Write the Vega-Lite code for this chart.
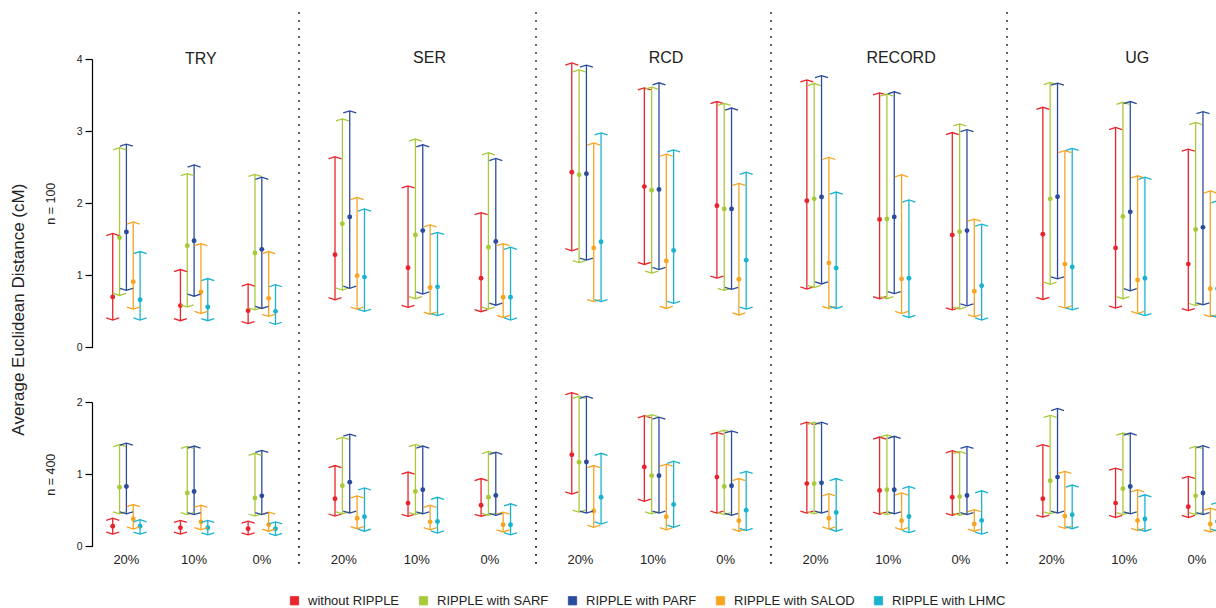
{
"$schema": "https://vega.github.io/schema/vega-lite/v6.json",
"padding": {"left": 10, "top": 11, "right": 0, "bottom": 0},
"datasets": {"d": [
{"dataset":"TRY","n":100,"missing":"20%","method":"without RIPPLE","mean":0.70,"low":0.38,"high":1.58},
{"dataset":"TRY","n":100,"missing":"20%","method":"RIPPLE with SARF","mean":1.52,"low":0.72,"high":2.77},
{"dataset":"TRY","n":100,"missing":"20%","method":"RIPPLE with PARF","mean":1.60,"low":0.79,"high":2.82},
{"dataset":"TRY","n":100,"missing":"20%","method":"RIPPLE with SALOD","mean":0.91,"low":0.53,"high":1.74},
{"dataset":"TRY","n":100,"missing":"20%","method":"RIPPLE with LHMC","mean":0.66,"low":0.38,"high":1.33},
{"dataset":"TRY","n":100,"missing":"10%","method":"without RIPPLE","mean":0.58,"low":0.37,"high":1.08},
{"dataset":"TRY","n":100,"missing":"10%","method":"RIPPLE with SARF","mean":1.41,"low":0.56,"high":2.41},
{"dataset":"TRY","n":100,"missing":"10%","method":"RIPPLE with PARF","mean":1.48,"low":0.71,"high":2.53},
{"dataset":"TRY","n":100,"missing":"10%","method":"RIPPLE with SALOD","mean":0.77,"low":0.47,"high":1.44},
{"dataset":"TRY","n":100,"missing":"10%","method":"RIPPLE with LHMC","mean":0.56,"low":0.37,"high":0.955},
{"dataset":"TRY","n":100,"missing":"0%","method":"without RIPPLE","mean":0.51,"low":0.33,"high":0.88},
{"dataset":"TRY","n":100,"missing":"0%","method":"RIPPLE with SARF","mean":1.31,"low":0.52,"high":2.40},
{"dataset":"TRY","n":100,"missing":"0%","method":"RIPPLE with PARF","mean":1.36,"low":0.54,"high":2.36},
{"dataset":"TRY","n":100,"missing":"0%","method":"RIPPLE with SALOD","mean":0.68,"low":0.43,"high":1.33},
{"dataset":"TRY","n":100,"missing":"0%","method":"RIPPLE with LHMC","mean":0.50,"low":0.32,"high":0.87},
{"dataset":"TRY","n":400,"missing":"20%","method":"without RIPPLE","mean":0.28,"low":0.17,"high":0.39},
{"dataset":"TRY","n":400,"missing":"20%","method":"RIPPLE with SARF","mean":0.82,"low":0.45,"high":1.41},
{"dataset":"TRY","n":400,"missing":"20%","method":"RIPPLE with PARF","mean":0.83,"low":0.45,"high":1.43},
{"dataset":"TRY","n":400,"missing":"20%","method":"RIPPLE with SALOD","mean":0.38,"low":0.24,"high":0.58},
{"dataset":"TRY","n":400,"missing":"20%","method":"RIPPLE with LHMC","mean":0.28,"low":0.17,"high":0.37},
{"dataset":"TRY","n":400,"missing":"10%","method":"without RIPPLE","mean":0.26,"low":0.17,"high":0.36},
{"dataset":"TRY","n":400,"missing":"10%","method":"RIPPLE with SARF","mean":0.74,"low":0.44,"high":1.385},
{"dataset":"TRY","n":400,"missing":"10%","method":"RIPPLE with PARF","mean":0.76,"low":0.44,"high":1.39},
{"dataset":"TRY","n":400,"missing":"10%","method":"RIPPLE with SALOD","mean":0.34,"low":0.23,"high":0.57},
{"dataset":"TRY","n":400,"missing":"10%","method":"RIPPLE with LHMC","mean":0.26,"low":0.16,"high":0.36},
{"dataset":"TRY","n":400,"missing":"0%","method":"without RIPPLE","mean":0.245,"low":0.16,"high":0.35},
{"dataset":"TRY","n":400,"missing":"0%","method":"RIPPLE with SARF","mean":0.67,"low":0.42,"high":1.29},
{"dataset":"TRY","n":400,"missing":"0%","method":"RIPPLE with PARF","mean":0.70,"low":0.44,"high":1.33},
{"dataset":"TRY","n":400,"missing":"0%","method":"RIPPLE with SALOD","mean":0.30,"low":0.21,"high":0.475},
{"dataset":"TRY","n":400,"missing":"0%","method":"RIPPLE with LHMC","mean":0.245,"low":0.15,"high":0.34},
{"dataset":"SER","n":100,"missing":"20%","method":"without RIPPLE","mean":1.285,"low":0.66,"high":2.645},
{"dataset":"SER","n":100,"missing":"20%","method":"RIPPLE with SARF","mean":1.715,"low":0.795,"high":3.17},
{"dataset":"SER","n":100,"missing":"20%","method":"RIPPLE with PARF","mean":1.81,"low":0.82,"high":3.28},
{"dataset":"SER","n":100,"missing":"20%","method":"RIPPLE with SALOD","mean":0.995,"low":0.53,"high":2.08},
{"dataset":"SER","n":100,"missing":"20%","method":"RIPPLE with LHMC","mean":0.975,"low":0.50,"high":1.92},
{"dataset":"SER","n":100,"missing":"10%","method":"without RIPPLE","mean":1.105,"low":0.555,"high":2.24},
{"dataset":"SER","n":100,"missing":"10%","method":"RIPPLE with SARF","mean":1.56,"low":0.675,"high":2.89},
{"dataset":"SER","n":100,"missing":"10%","method":"RIPPLE with PARF","mean":1.62,"low":0.74,"high":2.81},
{"dataset":"SER","n":100,"missing":"10%","method":"RIPPLE with SALOD","mean":0.83,"low":0.46,"high":1.70},
{"dataset":"SER","n":100,"missing":"10%","method":"RIPPLE with LHMC","mean":0.84,"low":0.44,"high":1.595},
{"dataset":"SER","n":100,"missing":"0%","method":"without RIPPLE","mean":0.96,"low":0.495,"high":1.87},
{"dataset":"SER","n":100,"missing":"0%","method":"RIPPLE with SARF","mean":1.39,"low":0.53,"high":2.70},
{"dataset":"SER","n":100,"missing":"0%","method":"RIPPLE with PARF","mean":1.47,"low":0.585,"high":2.62},
{"dataset":"SER","n":100,"missing":"0%","method":"RIPPLE with SALOD","mean":0.695,"low":0.415,"high":1.44},
{"dataset":"SER","n":100,"missing":"0%","method":"RIPPLE with LHMC","mean":0.695,"low":0.38,"high":1.39},
{"dataset":"SER","n":400,"missing":"20%","method":"without RIPPLE","mean":0.66,"low":0.42,"high":1.12},
{"dataset":"SER","n":400,"missing":"20%","method":"RIPPLE with SARF","mean":0.84,"low":0.45,"high":1.51},
{"dataset":"SER","n":400,"missing":"20%","method":"RIPPLE with PARF","mean":0.89,"low":0.46,"high":1.555},
{"dataset":"SER","n":400,"missing":"20%","method":"RIPPLE with SALOD","mean":0.39,"low":0.245,"high":0.70},
{"dataset":"SER","n":400,"missing":"20%","method":"RIPPLE with LHMC","mean":0.41,"low":0.21,"high":0.81},
{"dataset":"SER","n":400,"missing":"10%","method":"without RIPPLE","mean":0.60,"low":0.415,"high":1.03},
{"dataset":"SER","n":400,"missing":"10%","method":"RIPPLE with SARF","mean":0.76,"low":0.44,"high":1.41},
{"dataset":"SER","n":400,"missing":"10%","method":"RIPPLE with PARF","mean":0.785,"low":0.45,"high":1.39},
{"dataset":"SER","n":400,"missing":"10%","method":"RIPPLE with SALOD","mean":0.34,"low":0.23,"high":0.57},
{"dataset":"SER","n":400,"missing":"10%","method":"RIPPLE with LHMC","mean":0.345,"low":0.185,"high":0.68},
{"dataset":"SER","n":400,"missing":"0%","method":"without RIPPLE","mean":0.57,"low":0.415,"high":0.94},
{"dataset":"SER","n":400,"missing":"0%","method":"RIPPLE with SARF","mean":0.68,"low":0.43,"high":1.315},
{"dataset":"SER","n":400,"missing":"0%","method":"RIPPLE with PARF","mean":0.705,"low":0.43,"high":1.305},
{"dataset":"SER","n":400,"missing":"0%","method":"RIPPLE with SALOD","mean":0.30,"low":0.20,"high":0.475},
{"dataset":"SER","n":400,"missing":"0%","method":"RIPPLE with LHMC","mean":0.30,"low":0.16,"high":0.59},
{"dataset":"RCD","n":100,"missing":"20%","method":"without RIPPLE","mean":2.43,"low":1.34,"high":3.945},
{"dataset":"RCD","n":100,"missing":"20%","method":"RIPPLE with SARF","mean":2.395,"low":1.175,"high":3.85},
{"dataset":"RCD","n":100,"missing":"20%","method":"RIPPLE with PARF","mean":2.41,"low":1.21,"high":3.915},
{"dataset":"RCD","n":100,"missing":"20%","method":"RIPPLE with SALOD","mean":1.38,"low":0.635,"high":2.835},
{"dataset":"RCD","n":100,"missing":"20%","method":"RIPPLE with LHMC","mean":1.465,"low":0.635,"high":2.975},
{"dataset":"RCD","n":100,"missing":"10%","method":"without RIPPLE","mean":2.23,"low":1.15,"high":3.60},
{"dataset":"RCD","n":100,"missing":"10%","method":"RIPPLE with SARF","mean":2.18,"low":1.03,"high":3.61},
{"dataset":"RCD","n":100,"missing":"10%","method":"RIPPLE with PARF","mean":2.19,"low":1.08,"high":3.67},
{"dataset":"RCD","n":100,"missing":"10%","method":"RIPPLE with SALOD","mean":1.20,"low":0.54,"high":2.68},
{"dataset":"RCD","n":100,"missing":"10%","method":"RIPPLE with LHMC","mean":1.345,"low":0.61,"high":2.74},
{"dataset":"RCD","n":100,"missing":"0%","method":"without RIPPLE","mean":1.965,"low":0.96,"high":3.41},
{"dataset":"RCD","n":100,"missing":"0%","method":"RIPPLE with SARF","mean":1.92,"low":0.79,"high":3.385},
{"dataset":"RCD","n":100,"missing":"0%","method":"RIPPLE with PARF","mean":1.92,"low":0.805,"high":3.32},
{"dataset":"RCD","n":100,"missing":"0%","method":"RIPPLE with SALOD","mean":0.945,"low":0.45,"high":2.275},
{"dataset":"RCD","n":100,"missing":"0%","method":"RIPPLE with LHMC","mean":1.21,"low":0.53,"high":2.43},
{"dataset":"RCD","n":400,"missing":"20%","method":"without RIPPLE","mean":1.27,"low":0.725,"high":2.13},
{"dataset":"RCD","n":400,"missing":"20%","method":"RIPPLE with SARF","mean":1.165,"low":0.475,"high":2.08},
{"dataset":"RCD","n":400,"missing":"20%","method":"RIPPLE with PARF","mean":1.17,"low":0.46,"high":2.08},
{"dataset":"RCD","n":400,"missing":"20%","method":"RIPPLE with SALOD","mean":0.49,"low":0.265,"high":1.12},
{"dataset":"RCD","n":400,"missing":"20%","method":"RIPPLE with LHMC","mean":0.68,"low":0.31,"high":1.29},
{"dataset":"RCD","n":400,"missing":"10%","method":"without RIPPLE","mean":1.10,"low":0.625,"high":1.81},
{"dataset":"RCD","n":400,"missing":"10%","method":"RIPPLE with SARF","mean":0.98,"low":0.45,"high":1.825},
{"dataset":"RCD","n":400,"missing":"10%","method":"RIPPLE with PARF","mean":0.98,"low":0.46,"high":1.79},
{"dataset":"RCD","n":400,"missing":"10%","method":"RIPPLE with SALOD","mean":0.41,"low":0.23,"high":1.14},
{"dataset":"RCD","n":400,"missing":"10%","method":"RIPPLE with LHMC","mean":0.58,"low":0.265,"high":1.18},
{"dataset":"RCD","n":400,"missing":"0%","method":"without RIPPLE","mean":0.96,"low":0.46,"high":1.58},
{"dataset":"RCD","n":400,"missing":"0%","method":"RIPPLE with SARF","mean":0.83,"low":0.44,"high":1.61},
{"dataset":"RCD","n":400,"missing":"0%","method":"RIPPLE with PARF","mean":0.84,"low":0.43,"high":1.60},
{"dataset":"RCD","n":400,"missing":"0%","method":"RIPPLE with SALOD","mean":0.355,"low":0.21,"high":0.94},
{"dataset":"RCD","n":400,"missing":"0%","method":"RIPPLE with LHMC","mean":0.50,"low":0.22,"high":1.04},
{"dataset":"RECORD","n":100,"missing":"20%","method":"without RIPPLE","mean":2.035,"low":0.81,"high":3.71},
{"dataset":"RECORD","n":100,"missing":"20%","method":"RIPPLE with SARF","mean":2.06,"low":0.83,"high":3.66},
{"dataset":"RECORD","n":100,"missing":"20%","method":"RIPPLE with PARF","mean":2.085,"low":0.88,"high":3.77},
{"dataset":"RECORD","n":100,"missing":"20%","method":"RIPPLE with SALOD","mean":1.17,"low":0.54,"high":2.635},
{"dataset":"RECORD","n":100,"missing":"20%","method":"RIPPLE with LHMC","mean":1.10,"low":0.54,"high":2.155},
{"dataset":"RECORD","n":100,"missing":"10%","method":"without RIPPLE","mean":1.775,"low":0.675,"high":3.53},
{"dataset":"RECORD","n":100,"missing":"10%","method":"RIPPLE with SARF","mean":1.78,"low":0.675,"high":3.515},
{"dataset":"RECORD","n":100,"missing":"10%","method":"RIPPLE with PARF","mean":1.81,"low":0.745,"high":3.545},
{"dataset":"RECORD","n":100,"missing":"10%","method":"RIPPLE with SALOD","mean":0.95,"low":0.47,"high":2.395},
{"dataset":"RECORD","n":100,"missing":"10%","method":"RIPPLE with LHMC","mean":0.96,"low":0.415,"high":2.045},
{"dataset":"RECORD","n":100,"missing":"0%","method":"without RIPPLE","mean":1.56,"low":0.52,"high":2.98},
{"dataset":"RECORD","n":100,"missing":"0%","method":"RIPPLE with SARF","mean":1.605,"low":0.53,"high":3.10},
{"dataset":"RECORD","n":100,"missing":"0%","method":"RIPPLE with PARF","mean":1.62,"low":0.575,"high":3.02},
{"dataset":"RECORD","n":100,"missing":"0%","method":"RIPPLE with SALOD","mean":0.78,"low":0.425,"high":1.78},
{"dataset":"RECORD","n":100,"missing":"0%","method":"RIPPLE with LHMC","mean":0.855,"low":0.38,"high":1.71},
{"dataset":"RECORD","n":400,"missing":"20%","method":"without RIPPLE","mean":0.87,"low":0.46,"high":1.72},
{"dataset":"RECORD","n":400,"missing":"20%","method":"RIPPLE with SARF","mean":0.87,"low":0.45,"high":1.72},
{"dataset":"RECORD","n":400,"missing":"20%","method":"RIPPLE with PARF","mean":0.88,"low":0.46,"high":1.72},
{"dataset":"RECORD","n":400,"missing":"20%","method":"RIPPLE with SALOD","mean":0.39,"low":0.24,"high":0.73},
{"dataset":"RECORD","n":400,"missing":"20%","method":"RIPPLE with LHMC","mean":0.47,"low":0.21,"high":0.94},
{"dataset":"RECORD","n":400,"missing":"10%","method":"without RIPPLE","mean":0.775,"low":0.445,"high":1.515},
{"dataset":"RECORD","n":400,"missing":"10%","method":"RIPPLE with SARF","mean":0.785,"low":0.44,"high":1.545},
{"dataset":"RECORD","n":400,"missing":"10%","method":"RIPPLE with PARF","mean":0.785,"low":0.45,"high":1.525},
{"dataset":"RECORD","n":400,"missing":"10%","method":"RIPPLE with SALOD","mean":0.355,"low":0.23,"high":0.74},
{"dataset":"RECORD","n":400,"missing":"10%","method":"RIPPLE with LHMC","mean":0.415,"low":0.19,"high":0.83},
{"dataset":"RECORD","n":400,"missing":"0%","method":"without RIPPLE","mean":0.68,"low":0.43,"high":1.325},
{"dataset":"RECORD","n":400,"missing":"0%","method":"RIPPLE with SARF","mean":0.69,"low":0.43,"high":1.315},
{"dataset":"RECORD","n":400,"missing":"0%","method":"RIPPLE with PARF","mean":0.705,"low":0.44,"high":1.385},
{"dataset":"RECORD","n":400,"missing":"0%","method":"RIPPLE with SALOD","mean":0.31,"low":0.21,"high":0.51},
{"dataset":"RECORD","n":400,"missing":"0%","method":"RIPPLE with LHMC","mean":0.36,"low":0.17,"high":0.77},
{"dataset":"UG","n":100,"missing":"20%","method":"without RIPPLE","mean":1.57,"low":0.665,"high":3.33},
{"dataset":"UG","n":100,"missing":"20%","method":"RIPPLE with SARF","mean":2.06,"low":0.875,"high":3.675},
{"dataset":"UG","n":100,"missing":"20%","method":"RIPPLE with PARF","mean":2.09,"low":0.95,"high":3.665},
{"dataset":"UG","n":100,"missing":"20%","method":"RIPPLE with SALOD","mean":1.155,"low":0.545,"high":2.73},
{"dataset":"UG","n":100,"missing":"20%","method":"RIPPLE with LHMC","mean":1.115,"low":0.52,"high":2.76},
{"dataset":"UG","n":100,"missing":"10%","method":"without RIPPLE","mean":1.38,"low":0.545,"high":3.05},
{"dataset":"UG","n":100,"missing":"10%","method":"RIPPLE with SARF","mean":1.815,"low":0.675,"high":3.40},
{"dataset":"UG","n":100,"missing":"10%","method":"RIPPLE with PARF","mean":1.88,"low":0.785,"high":3.41},
{"dataset":"UG","n":100,"missing":"10%","method":"RIPPLE with SALOD","mean":0.935,"low":0.47,"high":2.38},
{"dataset":"UG","n":100,"missing":"10%","method":"RIPPLE with LHMC","mean":0.96,"low":0.44,"high":2.36},
{"dataset":"UG","n":100,"missing":"0%","method":"without RIPPLE","mean":1.155,"low":0.51,"high":2.75},
{"dataset":"UG","n":100,"missing":"0%","method":"RIPPLE with SARF","mean":1.635,"low":0.58,"high":3.12},
{"dataset":"UG","n":100,"missing":"0%","method":"RIPPLE with PARF","mean":1.665,"low":0.59,"high":3.27},
{"dataset":"UG","n":100,"missing":"0%","method":"RIPPLE with SALOD","mean":0.815,"low":0.425,"high":2.17},
{"dataset":"UG","n":100,"missing":"0%","method":"RIPPLE with LHMC","mean":0.815,"low":0.415,"high":2.035},
{"dataset":"UG","n":400,"missing":"20%","method":"without RIPPLE","mean":0.66,"low":0.405,"high":1.41},
{"dataset":"UG","n":400,"missing":"20%","method":"RIPPLE with SARF","mean":0.91,"low":0.45,"high":1.815},
{"dataset":"UG","n":400,"missing":"20%","method":"RIPPLE with PARF","mean":0.96,"low":0.46,"high":1.91},
{"dataset":"UG","n":400,"missing":"20%","method":"RIPPLE with SALOD","mean":0.42,"low":0.25,"high":1.04},
{"dataset":"UG","n":400,"missing":"20%","method":"RIPPLE with LHMC","mean":0.44,"low":0.245,"high":0.85},
{"dataset":"UG","n":400,"missing":"10%","method":"without RIPPLE","mean":0.60,"low":0.40,"high":1.085},
{"dataset":"UG","n":400,"missing":"10%","method":"RIPPLE with SARF","mean":0.80,"low":0.44,"high":1.57},
{"dataset":"UG","n":400,"missing":"10%","method":"RIPPLE with PARF","mean":0.83,"low":0.45,"high":1.57},
{"dataset":"UG","n":400,"missing":"10%","method":"RIPPLE with SALOD","mean":0.36,"low":0.22,"high":0.785},
{"dataset":"UG","n":400,"missing":"10%","method":"RIPPLE with LHMC","mean":0.38,"low":0.21,"high":0.715},
{"dataset":"UG","n":400,"missing":"0%","method":"without RIPPLE","mean":0.55,"low":0.40,"high":0.97},
{"dataset":"UG","n":400,"missing":"0%","method":"RIPPLE with SARF","mean":0.70,"low":0.44,"high":1.385},
{"dataset":"UG","n":400,"missing":"0%","method":"RIPPLE with PARF","mean":0.74,"low":0.44,"high":1.395},
{"dataset":"UG","n":400,"missing":"0%","method":"RIPPLE with SALOD","mean":0.31,"low":0.20,"high":0.53},
{"dataset":"UG","n":400,"missing":"0%","method":"RIPPLE with LHMC","mean":0.345,"low":0.21,"high":0.61}
]},
"data": {"name": "d"},
"title": {"text": "Average Euclidean Distance (cM)", "orient": "left", "anchor": "middle", "offset": 16, "fontSize": 17, "fontWeight": "normal", "color": "#222"},
"columns": 5,
"spacing": {"row": 54, "column": 0},
"bounds": "flush",
"align": "each",
"resolve": {"scale": {"x": "independent", "y": "independent", "xOffset": "independent"}},
"concat": [
{
 "width": 206.5, "height": 288.4,
 "title": {"text": "TRY", "frame": "group", "offset": -63, "baseline": "middle", "anchor": "middle", "dx": 5.5, "fontSize": 16, "fontWeight": "normal", "color": "#222"},
 "transform": [{"filter": "datum.dataset === 'TRY' && datum.n === 100"}],
 "layer": [
  {
   "encoding": {
    "x": {"field": "missing", "type": "nominal", "sort": ["20%","10%","0%"], "scale": {"paddingInner": 0.495, "paddingOuter": 0.2725, "align": 0.469}, "axis": null},
    "xOffset": {"field": "method", "type": "nominal", "sort": ["without RIPPLE","RIPPLE with SARF","RIPPLE with PARF","RIPPLE with SALOD","RIPPLE with LHMC"], "scale": {"paddingInner": 0, "paddingOuter": 0}},
    "color": {"field": "method", "type": "nominal", "sort": ["without RIPPLE","RIPPLE with SARF","RIPPLE with PARF","RIPPLE with SALOD","RIPPLE with LHMC"], "scale": {"domain": ["without RIPPLE","RIPPLE with SARF","RIPPLE with PARF","RIPPLE with SALOD","RIPPLE with LHMC"], "range": ["#e8242c","#a8ca3a","#2b4c9c","#f6a523","#19b3cf"]}, "legend": {"title": null}}
   },
   "layer": [
    {"mark": {"type": "point", "filled": true, "size": 24, "opacity": 1}, "encoding": {"y": {"field": "mean", "type": "quantitative", "scale": {"domain": [0,4], "nice": false}, "axis": {"title": "n = 100", "values": [0,1,2,3,4], "format": "d"}}}},
    {"mark": {"type": "rule", "strokeWidth": 1.3}, "encoding": {"y": {"field": "low", "type": "quantitative", "scale": {"domain": [0,4], "nice": false}, "axis": {"title": "n = 100", "values": [0,1,2,3,4], "format": "d"}}, "y2": {"field": "high"}}},
    {"mark": {"type": "point", "shape": "M-1,0.32L0,0L1,0.32", "filled": false, "size": 169, "strokeWidth": 1.3, "opacity": 1}, "encoding": {"y": {"field": "high", "type": "quantitative", "scale": {"domain": [0,4], "nice": false}, "axis": {"title": "n = 100", "values": [0,1,2,3,4], "format": "d"}}}},
    {"mark": {"type": "point", "shape": "M-1,-0.32L0,0L1,-0.32", "filled": false, "size": 169, "strokeWidth": 1.3, "opacity": 1}, "encoding": {"y": {"field": "low", "type": "quantitative", "scale": {"domain": [0,4], "nice": false}, "axis": {"title": "n = 100", "values": [0,1,2,3,4], "format": "d"}}}}
   ]
  },
  {"transform": [{"aggregate": [{"op": "count", "as": "k"}]}], "mark": {"type": "rule", "color": "#111", "strokeWidth": 1.7, "opacity": 0}, "encoding": {"x": {"value": 0}, "y": {"datum": 4.65, "type": "quantitative", "scale": {"domain": [0,4], "nice": false}, "axis": {"title": "n = 100", "values": [0,1,2,3,4], "format": "d"}}, "y2": {"datum": -0.75}}}
 ]
},
{
 "width": 236.5, "height": 288.4,
 "title": {"text": "SER", "frame": "group", "offset": -63, "baseline": "middle", "anchor": "middle", "dx": 12.3, "fontSize": 16, "fontWeight": "normal", "color": "#222"},
 "transform": [{"filter": "datum.dataset === 'SER' && datum.n === 100"}],
 "layer": [
  {
   "encoding": {
    "x": {"field": "missing", "type": "nominal", "sort": ["20%","10%","0%"], "scale": {"paddingInner": 0.4955, "paddingOuter": 0.367, "align": 0.603}, "axis": null},
    "xOffset": {"field": "method", "type": "nominal", "sort": ["without RIPPLE","RIPPLE with SARF","RIPPLE with PARF","RIPPLE with SALOD","RIPPLE with LHMC"], "scale": {"paddingInner": 0, "paddingOuter": 0}},
    "color": {"field": "method", "type": "nominal", "sort": ["without RIPPLE","RIPPLE with SARF","RIPPLE with PARF","RIPPLE with SALOD","RIPPLE with LHMC"], "scale": {"domain": ["without RIPPLE","RIPPLE with SARF","RIPPLE with PARF","RIPPLE with SALOD","RIPPLE with LHMC"], "range": ["#e8242c","#a8ca3a","#2b4c9c","#f6a523","#19b3cf"]}, "legend": {"title": null}}
   },
   "layer": [
    {"mark": {"type": "point", "filled": true, "size": 24, "opacity": 1}, "encoding": {"y": {"field": "mean", "type": "quantitative", "scale": {"domain": [0,4], "nice": false}, "axis": null}}},
    {"mark": {"type": "rule", "strokeWidth": 1.3}, "encoding": {"y": {"field": "low", "type": "quantitative", "scale": {"domain": [0,4], "nice": false}, "axis": null}, "y2": {"field": "high"}}},
    {"mark": {"type": "point", "shape": "M-1,0.32L0,0L1,0.32", "filled": false, "size": 169, "strokeWidth": 1.3, "opacity": 1}, "encoding": {"y": {"field": "high", "type": "quantitative", "scale": {"domain": [0,4], "nice": false}, "axis": null}}},
    {"mark": {"type": "point", "shape": "M-1,-0.32L0,0L1,-0.32", "filled": false, "size": 169, "strokeWidth": 1.3, "opacity": 1}, "encoding": {"y": {"field": "low", "type": "quantitative", "scale": {"domain": [0,4], "nice": false}, "axis": null}}}
   ]
  },
  {"transform": [{"aggregate": [{"op": "count", "as": "k"}]}], "mark": {"type": "rule", "color": "#111", "strokeWidth": 1.7, "strokeDash": [1.7, 6.3]}, "encoding": {"x": {"value": 0}, "y": {"datum": 4.65, "type": "quantitative", "scale": {"domain": [0,4], "nice": false}, "axis": null}, "y2": {"datum": -0.75}}}
 ]
},
{
 "width": 235, "height": 288.4,
 "title": {"text": "RCD", "frame": "group", "offset": -63, "baseline": "middle", "anchor": "middle", "dx": 12.5, "fontSize": 16, "fontWeight": "normal", "color": "#222"},
 "transform": [{"filter": "datum.dataset === 'RCD' && datum.n === 100"}],
 "layer": [
  {
   "encoding": {
    "x": {"field": "missing", "type": "nominal", "sort": ["20%","10%","0%"], "scale": {"paddingInner": 0.4955, "paddingOuter": 0.367, "align": 0.603}, "axis": null},
    "xOffset": {"field": "method", "type": "nominal", "sort": ["without RIPPLE","RIPPLE with SARF","RIPPLE with PARF","RIPPLE with SALOD","RIPPLE with LHMC"], "scale": {"paddingInner": 0, "paddingOuter": 0}},
    "color": {"field": "method", "type": "nominal", "sort": ["without RIPPLE","RIPPLE with SARF","RIPPLE with PARF","RIPPLE with SALOD","RIPPLE with LHMC"], "scale": {"domain": ["without RIPPLE","RIPPLE with SARF","RIPPLE with PARF","RIPPLE with SALOD","RIPPLE with LHMC"], "range": ["#e8242c","#a8ca3a","#2b4c9c","#f6a523","#19b3cf"]}, "legend": {"title": null}}
   },
   "layer": [
    {"mark": {"type": "point", "filled": true, "size": 24, "opacity": 1}, "encoding": {"y": {"field": "mean", "type": "quantitative", "scale": {"domain": [0,4], "nice": false}, "axis": null}}},
    {"mark": {"type": "rule", "strokeWidth": 1.3}, "encoding": {"y": {"field": "low", "type": "quantitative", "scale": {"domain": [0,4], "nice": false}, "axis": null}, "y2": {"field": "high"}}},
    {"mark": {"type": "point", "shape": "M-1,0.32L0,0L1,0.32", "filled": false, "size": 169, "strokeWidth": 1.3, "opacity": 1}, "encoding": {"y": {"field": "high", "type": "quantitative", "scale": {"domain": [0,4], "nice": false}, "axis": null}}},
    {"mark": {"type": "point", "shape": "M-1,-0.32L0,0L1,-0.32", "filled": false, "size": 169, "strokeWidth": 1.3, "opacity": 1}, "encoding": {"y": {"field": "low", "type": "quantitative", "scale": {"domain": [0,4], "nice": false}, "axis": null}}}
   ]
  },
  {"transform": [{"aggregate": [{"op": "count", "as": "k"}]}], "mark": {"type": "rule", "color": "#111", "strokeWidth": 1.7, "strokeDash": [1.7, 6.3]}, "encoding": {"x": {"value": 0}, "y": {"datum": 4.65, "type": "quantitative", "scale": {"domain": [0,4], "nice": false}, "axis": null}, "y2": {"datum": -0.75}}}
 ]
},
{
 "width": 235.5, "height": 288.4,
 "title": {"text": "RECORD", "frame": "group", "offset": -63, "baseline": "middle", "anchor": "middle", "dx": 12.3, "fontSize": 16, "fontWeight": "normal", "color": "#222"},
 "transform": [{"filter": "datum.dataset === 'RECORD' && datum.n === 100"}],
 "layer": [
  {
   "encoding": {
    "x": {"field": "missing", "type": "nominal", "sort": ["20%","10%","0%"], "scale": {"paddingInner": 0.4955, "paddingOuter": 0.367, "align": 0.603}, "axis": null},
    "xOffset": {"field": "method", "type": "nominal", "sort": ["without RIPPLE","RIPPLE with SARF","RIPPLE with PARF","RIPPLE with SALOD","RIPPLE with LHMC"], "scale": {"paddingInner": 0, "paddingOuter": 0}},
    "color": {"field": "method", "type": "nominal", "sort": ["without RIPPLE","RIPPLE with SARF","RIPPLE with PARF","RIPPLE with SALOD","RIPPLE with LHMC"], "scale": {"domain": ["without RIPPLE","RIPPLE with SARF","RIPPLE with PARF","RIPPLE with SALOD","RIPPLE with LHMC"], "range": ["#e8242c","#a8ca3a","#2b4c9c","#f6a523","#19b3cf"]}, "legend": {"title": null}}
   },
   "layer": [
    {"mark": {"type": "point", "filled": true, "size": 24, "opacity": 1}, "encoding": {"y": {"field": "mean", "type": "quantitative", "scale": {"domain": [0,4], "nice": false}, "axis": null}}},
    {"mark": {"type": "rule", "strokeWidth": 1.3}, "encoding": {"y": {"field": "low", "type": "quantitative", "scale": {"domain": [0,4], "nice": false}, "axis": null}, "y2": {"field": "high"}}},
    {"mark": {"type": "point", "shape": "M-1,0.32L0,0L1,0.32", "filled": false, "size": 169, "strokeWidth": 1.3, "opacity": 1}, "encoding": {"y": {"field": "high", "type": "quantitative", "scale": {"domain": [0,4], "nice": false}, "axis": null}}},
    {"mark": {"type": "point", "shape": "M-1,-0.32L0,0L1,-0.32", "filled": false, "size": 169, "strokeWidth": 1.3, "opacity": 1}, "encoding": {"y": {"field": "low", "type": "quantitative", "scale": {"domain": [0,4], "nice": false}, "axis": null}}}
   ]
  },
  {"transform": [{"aggregate": [{"op": "count", "as": "k"}]}], "mark": {"type": "rule", "color": "#111", "strokeWidth": 1.7, "strokeDash": [1.7, 6.3]}, "encoding": {"x": {"value": 0}, "y": {"datum": 4.65, "type": "quantitative", "scale": {"domain": [0,4], "nice": false}, "axis": null}, "y2": {"datum": -0.75}}}
 ]
},
{
 "width": 210.5, "height": 288.4,
 "title": {"text": "UG", "frame": "group", "offset": -63, "baseline": "middle", "anchor": "middle", "dx": 25, "fontSize": 16, "fontWeight": "normal", "color": "#222"},
 "transform": [{"filter": "datum.dataset === 'UG' && datum.n === 100"}],
 "layer": [
  {
   "encoding": {
    "x": {"field": "missing", "type": "nominal", "sort": ["20%","10%","0%"], "scale": {"paddingInner": 0.4955, "paddingOuter": 0.367, "align": 0.603, "range": [0, 235.5]}, "axis": null},
    "xOffset": {"field": "method", "type": "nominal", "sort": ["without RIPPLE","RIPPLE with SARF","RIPPLE with PARF","RIPPLE with SALOD","RIPPLE with LHMC"], "scale": {"paddingInner": 0, "paddingOuter": 0}},
    "color": {"field": "method", "type": "nominal", "sort": ["without RIPPLE","RIPPLE with SARF","RIPPLE with PARF","RIPPLE with SALOD","RIPPLE with LHMC"], "scale": {"domain": ["without RIPPLE","RIPPLE with SARF","RIPPLE with PARF","RIPPLE with SALOD","RIPPLE with LHMC"], "range": ["#e8242c","#a8ca3a","#2b4c9c","#f6a523","#19b3cf"]}, "legend": {"title": null}}
   },
   "layer": [
    {"mark": {"type": "point", "filled": true, "size": 24, "opacity": 1, "clip": true}, "encoding": {"y": {"field": "mean", "type": "quantitative", "scale": {"domain": [0,4], "nice": false}, "axis": null}}},
    {"mark": {"type": "rule", "strokeWidth": 1.3, "clip": true}, "encoding": {"y": {"field": "low", "type": "quantitative", "scale": {"domain": [0,4], "nice": false}, "axis": null}, "y2": {"field": "high"}}},
    {"mark": {"type": "point", "shape": "M-1,0.32L0,0L1,0.32", "filled": false, "size": 169, "strokeWidth": 1.3, "opacity": 1, "clip": true}, "encoding": {"y": {"field": "high", "type": "quantitative", "scale": {"domain": [0,4], "nice": false}, "axis": null}}},
    {"mark": {"type": "point", "shape": "M-1,-0.32L0,0L1,-0.32", "filled": false, "size": 169, "strokeWidth": 1.3, "opacity": 1, "clip": true}, "encoding": {"y": {"field": "low", "type": "quantitative", "scale": {"domain": [0,4], "nice": false}, "axis": null}}}
   ]
  },
  {"transform": [{"aggregate": [{"op": "count", "as": "k"}]}], "mark": {"type": "rule", "color": "#111", "strokeWidth": 1.7, "strokeDash": [1.7, 6.3]}, "encoding": {"x": {"value": 0}, "y": {"datum": 4.65, "type": "quantitative", "scale": {"domain": [0,4], "nice": false}, "axis": null}, "y2": {"datum": -0.75}}}
 ]
},
{
 "width": 206.5, "height": 144.4,
 "transform": [{"filter": "datum.dataset === 'TRY' && datum.n === 400"}],
 "layer": [
  {
   "encoding": {
    "x": {"field": "missing", "type": "nominal", "sort": ["20%","10%","0%"], "scale": {"paddingInner": 0.495, "paddingOuter": 0.2725, "align": 0.469}, "axis": {"title": null}},
    "xOffset": {"field": "method", "type": "nominal", "sort": ["without RIPPLE","RIPPLE with SARF","RIPPLE with PARF","RIPPLE with SALOD","RIPPLE with LHMC"], "scale": {"paddingInner": 0, "paddingOuter": 0}},
    "color": {"field": "method", "type": "nominal", "sort": ["without RIPPLE","RIPPLE with SARF","RIPPLE with PARF","RIPPLE with SALOD","RIPPLE with LHMC"], "scale": {"domain": ["without RIPPLE","RIPPLE with SARF","RIPPLE with PARF","RIPPLE with SALOD","RIPPLE with LHMC"], "range": ["#e8242c","#a8ca3a","#2b4c9c","#f6a523","#19b3cf"]}, "legend": {"title": null}}
   },
   "layer": [
    {"mark": {"type": "point", "filled": true, "size": 24, "opacity": 1}, "encoding": {"y": {"field": "mean", "type": "quantitative", "scale": {"domain": [0,2], "nice": false}, "axis": {"title": "n = 400", "tickCount": 2, "format": "d", "labelOverlap": false}}}},
    {"mark": {"type": "rule", "strokeWidth": 1.3}, "encoding": {"y": {"field": "low", "type": "quantitative", "scale": {"domain": [0,2], "nice": false}, "axis": {"title": "n = 400", "tickCount": 2, "format": "d", "labelOverlap": false}}, "y2": {"field": "high"}}},
    {"mark": {"type": "point", "shape": "M-1,0.32L0,0L1,0.32", "filled": false, "size": 169, "strokeWidth": 1.3, "opacity": 1}, "encoding": {"y": {"field": "high", "type": "quantitative", "scale": {"domain": [0,2], "nice": false}, "axis": {"title": "n = 400", "tickCount": 2, "format": "d", "labelOverlap": false}}}},
    {"mark": {"type": "point", "shape": "M-1,-0.32L0,0L1,-0.32", "filled": false, "size": 169, "strokeWidth": 1.3, "opacity": 1}, "encoding": {"y": {"field": "low", "type": "quantitative", "scale": {"domain": [0,2], "nice": false}, "axis": {"title": "n = 400", "tickCount": 2, "format": "d", "labelOverlap": false}}}}
   ]
  },
  {"transform": [{"aggregate": [{"op": "count", "as": "k"}]}], "mark": {"type": "rule", "color": "#111", "strokeWidth": 1.7, "opacity": 0}, "encoding": {"x": {"value": 0}, "y": {"datum": 2, "type": "quantitative", "scale": {"domain": [0,2], "nice": false}, "axis": {"title": "n = 400", "tickCount": 2, "format": "d", "labelOverlap": false}}, "y2": {"datum": -0.32}}}
 ]
},
{
 "width": 236.5, "height": 144.4,
 "transform": [{"filter": "datum.dataset === 'SER' && datum.n === 400"}],
 "layer": [
  {
   "encoding": {
    "x": {"field": "missing", "type": "nominal", "sort": ["20%","10%","0%"], "scale": {"paddingInner": 0.4955, "paddingOuter": 0.367, "align": 0.603}, "axis": {"title": null, "labelOffset": -6}},
    "xOffset": {"field": "method", "type": "nominal", "sort": ["without RIPPLE","RIPPLE with SARF","RIPPLE with PARF","RIPPLE with SALOD","RIPPLE with LHMC"], "scale": {"paddingInner": 0, "paddingOuter": 0}},
    "color": {"field": "method", "type": "nominal", "sort": ["without RIPPLE","RIPPLE with SARF","RIPPLE with PARF","RIPPLE with SALOD","RIPPLE with LHMC"], "scale": {"domain": ["without RIPPLE","RIPPLE with SARF","RIPPLE with PARF","RIPPLE with SALOD","RIPPLE with LHMC"], "range": ["#e8242c","#a8ca3a","#2b4c9c","#f6a523","#19b3cf"]}, "legend": {"title": null}}
   },
   "layer": [
    {"mark": {"type": "point", "filled": true, "size": 24, "opacity": 1}, "encoding": {"y": {"field": "mean", "type": "quantitative", "scale": {"domain": [0,2], "nice": false}, "axis": null}}},
    {"mark": {"type": "rule", "strokeWidth": 1.3}, "encoding": {"y": {"field": "low", "type": "quantitative", "scale": {"domain": [0,2], "nice": false}, "axis": null}, "y2": {"field": "high"}}},
    {"mark": {"type": "point", "shape": "M-1,0.32L0,0L1,0.32", "filled": false, "size": 169, "strokeWidth": 1.3, "opacity": 1}, "encoding": {"y": {"field": "high", "type": "quantitative", "scale": {"domain": [0,2], "nice": false}, "axis": null}}},
    {"mark": {"type": "point", "shape": "M-1,-0.32L0,0L1,-0.32", "filled": false, "size": 169, "strokeWidth": 1.3, "opacity": 1}, "encoding": {"y": {"field": "low", "type": "quantitative", "scale": {"domain": [0,2], "nice": false}, "axis": null}}}
   ]
  },
  {"transform": [{"aggregate": [{"op": "count", "as": "k"}]}], "mark": {"type": "rule", "color": "#111", "strokeWidth": 1.7, "strokeDash": [1.7, 6.3]}, "encoding": {"x": {"value": 0}, "y": {"datum": 2, "type": "quantitative", "scale": {"domain": [0,2], "nice": false}, "axis": null}, "y2": {"datum": -0.32}}}
 ]
},
{
 "width": 235, "height": 144.4,
 "transform": [{"filter": "datum.dataset === 'RCD' && datum.n === 400"}],
 "layer": [
  {
   "encoding": {
    "x": {"field": "missing", "type": "nominal", "sort": ["20%","10%","0%"], "scale": {"paddingInner": 0.4955, "paddingOuter": 0.367, "align": 0.603}, "axis": {"title": null, "labelOffset": -6}},
    "xOffset": {"field": "method", "type": "nominal", "sort": ["without RIPPLE","RIPPLE with SARF","RIPPLE with PARF","RIPPLE with SALOD","RIPPLE with LHMC"], "scale": {"paddingInner": 0, "paddingOuter": 0}},
    "color": {"field": "method", "type": "nominal", "sort": ["without RIPPLE","RIPPLE with SARF","RIPPLE with PARF","RIPPLE with SALOD","RIPPLE with LHMC"], "scale": {"domain": ["without RIPPLE","RIPPLE with SARF","RIPPLE with PARF","RIPPLE with SALOD","RIPPLE with LHMC"], "range": ["#e8242c","#a8ca3a","#2b4c9c","#f6a523","#19b3cf"]}, "legend": {"title": null}}
   },
   "layer": [
    {"mark": {"type": "point", "filled": true, "size": 24, "opacity": 1}, "encoding": {"y": {"field": "mean", "type": "quantitative", "scale": {"domain": [0,2], "nice": false}, "axis": null}}},
    {"mark": {"type": "rule", "strokeWidth": 1.3}, "encoding": {"y": {"field": "low", "type": "quantitative", "scale": {"domain": [0,2], "nice": false}, "axis": null}, "y2": {"field": "high"}}},
    {"mark": {"type": "point", "shape": "M-1,0.32L0,0L1,0.32", "filled": false, "size": 169, "strokeWidth": 1.3, "opacity": 1}, "encoding": {"y": {"field": "high", "type": "quantitative", "scale": {"domain": [0,2], "nice": false}, "axis": null}}},
    {"mark": {"type": "point", "shape": "M-1,-0.32L0,0L1,-0.32", "filled": false, "size": 169, "strokeWidth": 1.3, "opacity": 1}, "encoding": {"y": {"field": "low", "type": "quantitative", "scale": {"domain": [0,2], "nice": false}, "axis": null}}}
   ]
  },
  {"transform": [{"aggregate": [{"op": "count", "as": "k"}]}], "mark": {"type": "rule", "color": "#111", "strokeWidth": 1.7, "strokeDash": [1.7, 6.3]}, "encoding": {"x": {"value": 0}, "y": {"datum": 2, "type": "quantitative", "scale": {"domain": [0,2], "nice": false}, "axis": null}, "y2": {"datum": -0.32}}}
 ]
},
{
 "width": 235.5, "height": 144.4,
 "transform": [{"filter": "datum.dataset === 'RECORD' && datum.n === 400"}],
 "layer": [
  {
   "encoding": {
    "x": {"field": "missing", "type": "nominal", "sort": ["20%","10%","0%"], "scale": {"paddingInner": 0.4955, "paddingOuter": 0.367, "align": 0.603}, "axis": {"title": null, "labelOffset": -6}},
    "xOffset": {"field": "method", "type": "nominal", "sort": ["without RIPPLE","RIPPLE with SARF","RIPPLE with PARF","RIPPLE with SALOD","RIPPLE with LHMC"], "scale": {"paddingInner": 0, "paddingOuter": 0}},
    "color": {"field": "method", "type": "nominal", "sort": ["without RIPPLE","RIPPLE with SARF","RIPPLE with PARF","RIPPLE with SALOD","RIPPLE with LHMC"], "scale": {"domain": ["without RIPPLE","RIPPLE with SARF","RIPPLE with PARF","RIPPLE with SALOD","RIPPLE with LHMC"], "range": ["#e8242c","#a8ca3a","#2b4c9c","#f6a523","#19b3cf"]}, "legend": {"title": null}}
   },
   "layer": [
    {"mark": {"type": "point", "filled": true, "size": 24, "opacity": 1}, "encoding": {"y": {"field": "mean", "type": "quantitative", "scale": {"domain": [0,2], "nice": false}, "axis": null}}},
    {"mark": {"type": "rule", "strokeWidth": 1.3}, "encoding": {"y": {"field": "low", "type": "quantitative", "scale": {"domain": [0,2], "nice": false}, "axis": null}, "y2": {"field": "high"}}},
    {"mark": {"type": "point", "shape": "M-1,0.32L0,0L1,0.32", "filled": false, "size": 169, "strokeWidth": 1.3, "opacity": 1}, "encoding": {"y": {"field": "high", "type": "quantitative", "scale": {"domain": [0,2], "nice": false}, "axis": null}}},
    {"mark": {"type": "point", "shape": "M-1,-0.32L0,0L1,-0.32", "filled": false, "size": 169, "strokeWidth": 1.3, "opacity": 1}, "encoding": {"y": {"field": "low", "type": "quantitative", "scale": {"domain": [0,2], "nice": false}, "axis": null}}}
   ]
  },
  {"transform": [{"aggregate": [{"op": "count", "as": "k"}]}], "mark": {"type": "rule", "color": "#111", "strokeWidth": 1.7, "strokeDash": [1.7, 6.3]}, "encoding": {"x": {"value": 0}, "y": {"datum": 2, "type": "quantitative", "scale": {"domain": [0,2], "nice": false}, "axis": null}, "y2": {"datum": -0.32}}}
 ]
},
{
 "width": 210.5, "height": 144.4,
 "transform": [{"filter": "datum.dataset === 'UG' && datum.n === 400"}],
 "layer": [
  {
   "encoding": {
    "x": {"field": "missing", "type": "nominal", "sort": ["20%","10%","0%"], "scale": {"paddingInner": 0.4955, "paddingOuter": 0.367, "align": 0.603, "range": [0, 235.5]}, "axis": {"title": null, "labelOffset": -6}},
    "xOffset": {"field": "method", "type": "nominal", "sort": ["without RIPPLE","RIPPLE with SARF","RIPPLE with PARF","RIPPLE with SALOD","RIPPLE with LHMC"], "scale": {"paddingInner": 0, "paddingOuter": 0}},
    "color": {"field": "method", "type": "nominal", "sort": ["without RIPPLE","RIPPLE with SARF","RIPPLE with PARF","RIPPLE with SALOD","RIPPLE with LHMC"], "scale": {"domain": ["without RIPPLE","RIPPLE with SARF","RIPPLE with PARF","RIPPLE with SALOD","RIPPLE with LHMC"], "range": ["#e8242c","#a8ca3a","#2b4c9c","#f6a523","#19b3cf"]}, "legend": {"title": null}}
   },
   "layer": [
    {"mark": {"type": "point", "filled": true, "size": 24, "opacity": 1, "clip": true}, "encoding": {"y": {"field": "mean", "type": "quantitative", "scale": {"domain": [0,2], "nice": false}, "axis": null}}},
    {"mark": {"type": "rule", "strokeWidth": 1.3, "clip": true}, "encoding": {"y": {"field": "low", "type": "quantitative", "scale": {"domain": [0,2], "nice": false}, "axis": null}, "y2": {"field": "high"}}},
    {"mark": {"type": "point", "shape": "M-1,0.32L0,0L1,0.32", "filled": false, "size": 169, "strokeWidth": 1.3, "opacity": 1, "clip": true}, "encoding": {"y": {"field": "high", "type": "quantitative", "scale": {"domain": [0,2], "nice": false}, "axis": null}}},
    {"mark": {"type": "point", "shape": "M-1,-0.32L0,0L1,-0.32", "filled": false, "size": 169, "strokeWidth": 1.3, "opacity": 1, "clip": true}, "encoding": {"y": {"field": "low", "type": "quantitative", "scale": {"domain": [0,2], "nice": false}, "axis": null}}}
   ]
  },
  {"transform": [{"aggregate": [{"op": "count", "as": "k"}]}], "mark": {"type": "rule", "color": "#111", "strokeWidth": 1.7, "strokeDash": [1.7, 6.3]}, "encoding": {"x": {"value": 0}, "y": {"datum": 2, "type": "quantitative", "scale": {"domain": [0,2], "nice": false}, "axis": null}, "y2": {"datum": -0.32}}}
 ]
}
],
"config": {
 "font": "Liberation Sans",
 "background": "#ffffff",
 "view": {"stroke": null},
 "axis": {"grid": false, "labelColor": "#222", "titleColor": "#222", "titleFontWeight": "normal", "labelFont": "Liberation Sans", "titleFont": "Liberation Sans"},
 "axisY": {"tickSize": 7, "labelFontSize": 10.5, "labelPadding": 3, "titleFontSize": 12.5, "titlePadding": 19, "domainWidth": 1.2, "tickWidth": 1.2, "domainColor": "#000", "tickColor": "#000", "labelOverlap": false},
 "axisX": {"domain": false, "ticks": false, "labelFontSize": 13, "labelPadding": 7, "labelAngle": 0},
 "legend": {"orient": "none", "legendX": 196, "legendY": 535, "direction": "horizontal", "symbolType": "square", "symbolSize": 70, "symbolStrokeColor": "#333", "symbolStrokeWidth": 0.8, "labelFontSize": 13, "labelColor": "#222", "columnPadding": 17, "labelOffset": 7, "symbolOpacity": 1}
}
}
